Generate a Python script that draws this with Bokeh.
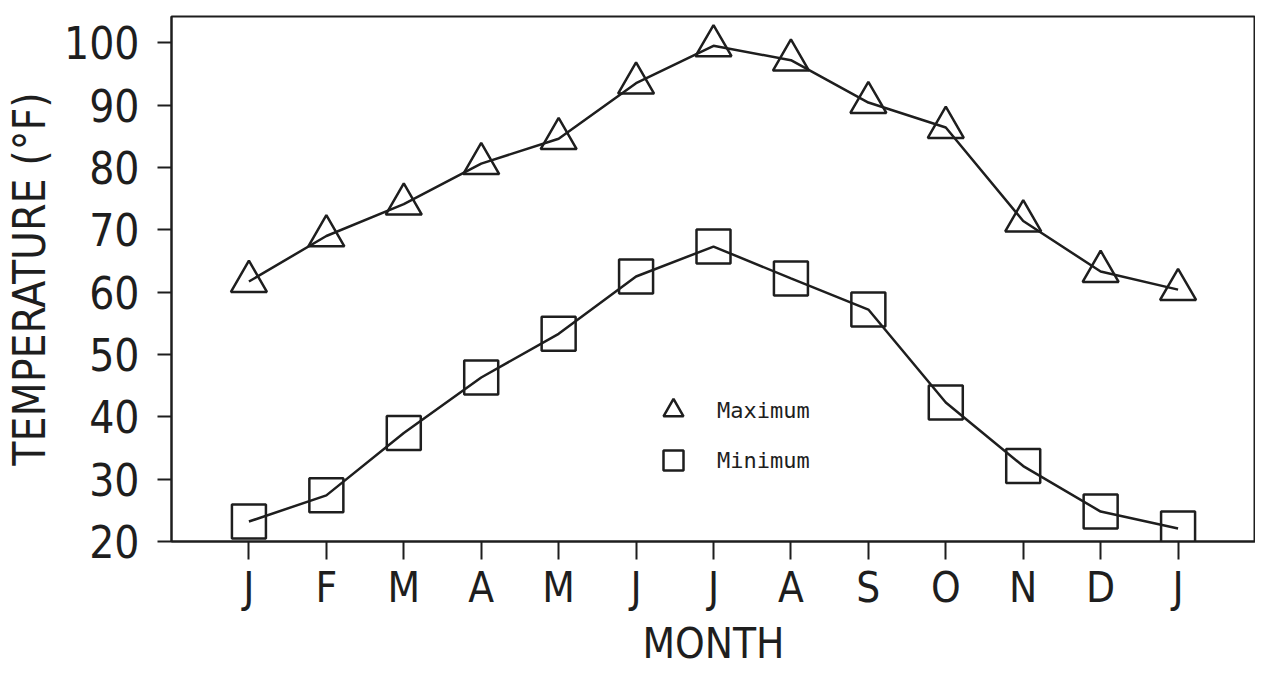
from bokeh.plotting import figure
from bokeh.models import Range1d, FixedTicker, Legend, LegendItem
from bokeh.embed import file_html
from bokeh.resources import INLINE

months = ["J", "F", "M", "A", "M", "J", "J", "A", "S", "O", "N", "D", "J"]
maximum = [61.7, 69.0, 74.1, 80.6, 84.6, 93.5, 99.5, 97.2, 90.4, 86.4, 71.4, 63.3, 60.4]
minimum = [23.2, 27.4, 37.4, 46.3, 53.3, 62.5, 67.3, 62.2, 57.2, 42.3, 32.1, 24.8, 22.1]
y_ticks = [20, 30, 40, 50, 60, 70, 80, 90, 100]

x = list(range(len(months)))
NARROW = "'DejaVu Sans Condensed', 'DejaVu Sans', sans-serif"
INK = "#1e1e1e"

p = figure(width=1255, height=671, output_backend="svg", toolbar_location=None,
           x_range=Range1d(-1, 13), y_range=Range1d(20, 104.2),
           min_border_left=166, min_border_right=0, min_border_top=16, min_border_bottom=130)

p.xgrid.visible = False
p.ygrid.visible = False
p.outline_line_color = INK
p.outline_line_width = 2
p.background_fill_color = "white"
p.border_fill_color = "white"

p.line(x, maximum, line_color=INK, line_width=2.5)
p.line(x, minimum, line_color=INK, line_width=2.5)
r_max = p.scatter(x, maximum, marker="triangle", size=36, fill_color=None,
                  line_color=INK, line_width=2.5)
r_min = p.scatter(x, minimum, marker="square", size=34, fill_color=None,
                  line_color=INK, line_width=2.5)

# axes
p.xaxis.ticker = FixedTicker(ticks=x)
p.xaxis.major_label_overrides = {i: m for i, m in enumerate(months)}
p.xaxis.minor_tick_line_color = None
p.xaxis.major_tick_in = 0
p.xaxis.major_tick_out = 18
p.xaxis.major_tick_line_width = 2
p.xaxis.axis_line_width = 2
p.xaxis.axis_line_color = INK
p.xaxis.major_tick_line_color = INK
p.xaxis.major_label_standoff = 3
p.xaxis.major_label_text_font = NARROW
p.xaxis.major_label_text_font_size = "42px"
p.xaxis.major_label_text_color = INK
p.xaxis.axis_label = "MONTH"
p.xaxis.axis_label_text_font = NARROW
p.xaxis.axis_label_text_font_size = "42px"
p.xaxis.axis_label_text_font_style = "normal"
p.xaxis.axis_label_text_color = INK
p.xaxis.axis_label_standoff = 4

p.yaxis.ticker = FixedTicker(ticks=y_ticks)
p.yaxis.minor_tick_line_color = None
p.yaxis.major_tick_in = 0
p.yaxis.major_tick_out = 14
p.yaxis.major_tick_line_width = 2
p.yaxis.axis_line_width = 2
p.yaxis.axis_line_color = INK
p.yaxis.major_tick_line_color = INK
p.yaxis.major_label_standoff = 18
p.yaxis.major_label_text_font = NARROW
p.yaxis.major_label_text_font_size = "44px"
p.yaxis.major_label_text_color = INK
p.yaxis.axis_label = "TEMPERATURE (°F)"
p.yaxis.axis_label_text_font = NARROW
p.yaxis.axis_label_text_font_size = "44px"
p.yaxis.axis_label_text_font_style = "normal"
p.yaxis.axis_label_text_color = INK
p.yaxis.axis_label_standoff = 6

legend = Legend(items=[LegendItem(label="Maximum", renderers=[r_max]),
                       LegendItem(label="Minimum", renderers=[r_min])],
                location=(477, 56), orientation="vertical",
                glyph_width=50, glyph_height=50, spacing=-4, padding=0, margin=0,
                label_standoff=19, label_text_font="'DejaVu Sans Mono', monospace",
                label_text_font_size="22px", label_text_color=INK,
                border_line_alpha=0, background_fill_alpha=0)
p.add_layout(legend)

open("out.html", "w").write(file_html(p, INLINE))
